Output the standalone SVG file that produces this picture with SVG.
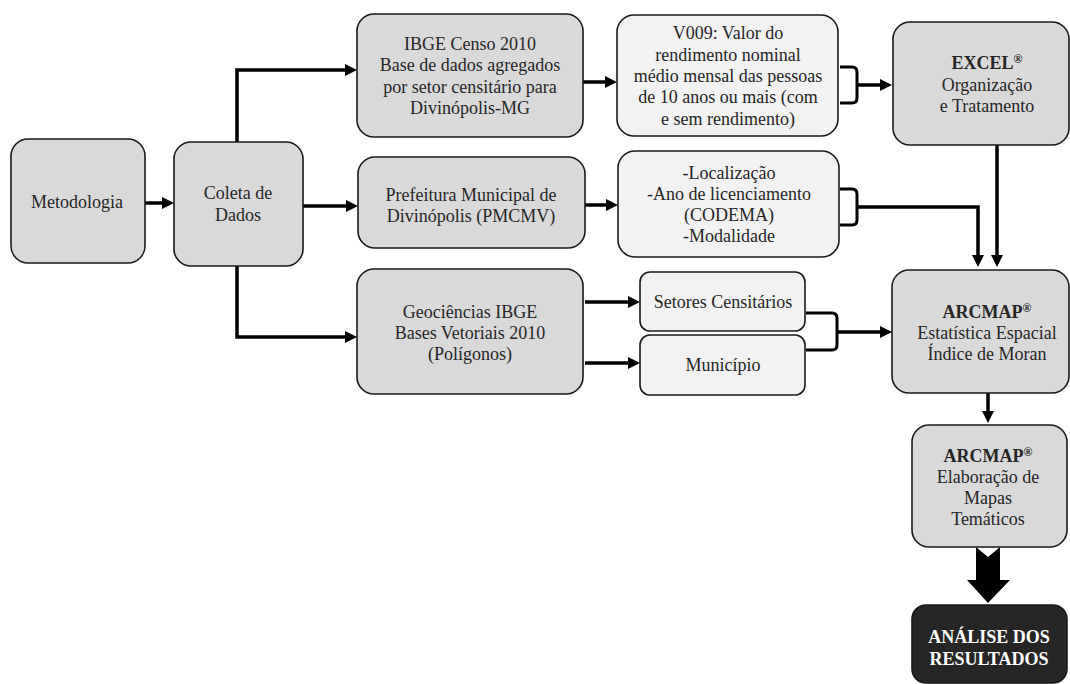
<svg xmlns="http://www.w3.org/2000/svg" width="1070" height="684" viewBox="0 0 1070 684">
<style>
.box{fill:#d9d9d9;stroke:#1a1a1a;stroke-width:1.6}
.lt{fill:#f2f2f2;stroke:#1a1a1a;stroke-width:1.6}
.dk{fill:#262626;stroke:#1a1a1a;stroke-width:1.6}
.t{font-family:"Liberation Serif","Times New Roman",serif;font-size:18px;fill:#262626;text-anchor:middle}
.b{font-weight:bold}
.w{fill:#ffffff}
.c{fill:none;stroke:#000;stroke-width:3.5}
.br{fill:none;stroke:#000;stroke-width:3}
</style>
<defs>
<marker id="ah" markerUnits="userSpaceOnUse" markerWidth="12" markerHeight="12" viewBox="0 0 12 12" refX="2" refY="6" orient="auto">
<path d="M0,0 L12,6 L0,12 z" fill="#000"/>
</marker>
</defs>
<rect width="1070" height="684" fill="#ffffff"/>
<g id="connectors">
<path class="c" d="M145,203 H164" marker-end="url(#ah)"/>
<path class="c" d="M237,142 V70 H347" marker-end="url(#ah)"/>
<path class="c" d="M303,206 H348" marker-end="url(#ah)"/>
<path class="c" d="M237,266 V337 H347" marker-end="url(#ah)"/>
<path class="c" d="M583,82 H607" marker-end="url(#ah)"/>
<path class="c" d="M585,205 H608" marker-end="url(#ah)"/>
<path class="c" d="M585,302 H630" marker-end="url(#ah)"/>
<path class="c" d="M585,363 H630" marker-end="url(#ah)"/>
<path class="br" d="M840,67 H852 Q857,67 857,72 V98 Q857,103 852,103 H840"/>
<path class="c" d="M857,85 H882" marker-end="url(#ah)"/>
<path class="br" d="M840,189 H852 Q857,189 857,194 V220 Q857,225 852,225 H840"/>
<path class="c" d="M857,207 H978 V257" marker-end="url(#ah)"/>
<path class="c" d="M997,145 V257" marker-end="url(#ah)"/>
<path class="br" d="M806,313 H832 Q837,313 837,318 V345 Q837,350 832,350 H806"/>
<path class="c" d="M837,332 H882" marker-end="url(#ah)"/>
<path class="c" d="M988,393 V413" marker-end="url(#ah)"/>
<polygon points="976,547 988,557 1000,547 1000,580 1010,580 988,603 967,580 976,580" fill="#000"/>
</g>
<g id="metodologia">
<rect class="box" x="11" y="139" width="134" height="124" rx="17"/>
<text class="t" x="77" y="208">Metodologia</text>
</g>
<g id="coleta">
<rect class="box" x="174" y="142" width="129" height="124" rx="17"/>
<text class="t" x="238" y="199">Coleta de</text>
<text class="t" x="238" y="221">Dados</text>
</g>
<g id="ibge-censo">
<rect class="box" x="357" y="14" width="226" height="123" rx="17"/>
<text class="t" x="470" y="50">IBGE Censo 2010</text>
<text class="t" x="470" y="71">Base de dados agregados</text>
<text class="t" x="470" y="93">por setor censitário para</text>
<text class="t" x="470" y="114">Divinópolis-MG</text>
</g>
<g id="prefeitura">
<rect class="box" x="358" y="157" width="227" height="91" rx="17"/>
<text class="t" x="471" y="201">Prefeitura Municipal de</text>
<text class="t" x="471" y="222">Divinópolis (PMCMV)</text>
</g>
<g id="geociencias">
<rect class="box" x="357" y="269" width="226" height="125" rx="17"/>
<text class="t" x="470" y="318">Geociências IBGE</text>
<text class="t" x="470" y="339">Bases Vetoriais 2010</text>
<text class="t" x="470" y="360">(Polígonos)</text>
</g>
<g id="v009">
<rect class="lt" x="617" y="15" width="221" height="121" rx="17"/>
<text class="t" x="728" y="39">V009: Valor do</text>
<text class="t" x="728" y="60.5">rendimento nominal</text>
<text class="t" x="728" y="82">médio mensal das pessoas</text>
<text class="t" x="728" y="103">de 10 anos ou mais (com</text>
<text class="t" x="728" y="124.5">e sem rendimento)</text>
</g>
<g id="localizacao">
<rect class="lt" x="618" y="151" width="221" height="106" rx="17"/>
<text class="t" x="729" y="179">-Localização</text>
<text class="t" x="729" y="200">-Ano de licenciamento</text>
<text class="t" x="729" y="221">(CODEMA)</text>
<text class="t" x="729" y="242">-Modalidade</text>
</g>
<g id="setores">
<rect class="lt" x="640" y="272" width="165" height="59" rx="10"/>
<text class="t" x="723" y="308">Setores Censitários</text>
</g>
<g id="municipio">
<rect class="lt" x="640" y="335" width="165" height="60" rx="10"/>
<text class="t" x="723" y="371">Município</text>
</g>
<g id="excel">
<rect class="box" x="893" y="22" width="176" height="123" rx="17"/>
<text class="t b" x="987" y="69">EXCEL<tspan font-size="12" dy="-6">®</tspan></text>
<text class="t" x="987" y="91">Organização</text>
<text class="t" x="987" y="112">e Tratamento</text>
</g>
<g id="arcmap-estatistica">
<rect class="box" x="892" y="270" width="177" height="123" rx="17"/>
<text class="t b" x="987" y="318">ARCMAP<tspan font-size="12" dy="-6">®</tspan></text>
<text class="t" x="987" y="339">Estatística Espacial</text>
<text class="t" x="987" y="360">Índice de Moran</text>
</g>
<g id="arcmap-mapas">
<rect class="box" x="912" y="425" width="155" height="122" rx="17"/>
<text class="t b" x="988" y="462">ARCMAP<tspan font-size="12" dy="-6">®</tspan></text>
<text class="t" x="988" y="483">Elaboração de</text>
<text class="t" x="988" y="504">Mapas</text>
<text class="t" x="988" y="525">Temáticos</text>
</g>
<g id="analise">
<rect class="dk" x="912" y="605" width="155" height="78" rx="14"/>
<text class="t b w" x="989" y="643">ANÁLISE DOS</text>
<text class="t b w" x="989" y="665">RESULTADOS</text>
</g>
</svg>
